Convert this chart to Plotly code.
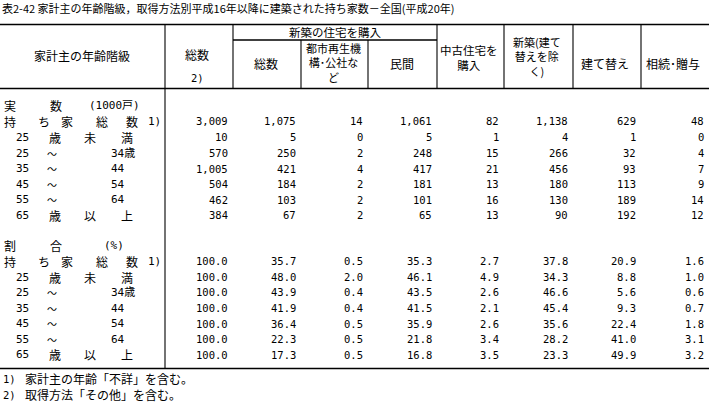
import plotly.graph_objects as go

# ---------------- data ----------------
title_text = "表2-42 家計主の年齢階級，取得方法別平成16年以降に建築された持ち家数－全国(平成20年)"

section_titles = [["実", "数", "(1000戸)"], ["割", "合", "(%)"]]
row_labels = [
    ["持", "ち", "家", "総", "数", "1)"],
    ["25", "歳", "未", "満"],
    ["25", "～", "34歳"],
    ["35", "～", "44"],
    ["45", "～", "54"],
    ["55", "～", "64"],
    ["65", "歳", "以", "上"],
]

counts = [
    [3009, 1075, 14, 1061, 82, 1138, 629, 48],
    [10, 5, 0, 5, 1, 4, 1, 0],
    [570, 250, 2, 248, 15, 266, 32, 4],
    [1005, 421, 4, 417, 21, 456, 93, 7],
    [504, 184, 2, 181, 13, 180, 113, 9],
    [462, 103, 2, 101, 16, 130, 189, 14],
    [384, 67, 2, 65, 13, 90, 192, 12],
]

percents = [
    [100.0, 35.7, 0.5, 35.3, 2.7, 37.8, 20.9, 1.6],
    [100.0, 48.0, 2.0, 46.1, 4.9, 34.3, 8.8, 1.0],
    [100.0, 43.9, 0.4, 43.5, 2.6, 46.6, 5.6, 0.6],
    [100.0, 41.9, 0.4, 41.5, 2.1, 45.4, 9.3, 0.7],
    [100.0, 36.4, 0.5, 35.9, 2.6, 35.6, 22.4, 1.8],
    [100.0, 22.3, 0.5, 21.8, 3.4, 28.2, 41.0, 3.1],
    [100.0, 17.3, 0.5, 16.8, 3.5, 23.3, 49.9, 3.2],
]

footnotes = [["1)", "家計主の年齢「不詳」を含む。"], ["2)", "取得方法「その他」を含む。"]]

# header texts (lines per column)
header_stub = "家計主の年齢階級"
header_total = ["総数", "2)"]
header_group = "新築の住宅を購入"
header_sub = [["総数"], ["都市再生機", "構･公社な", "ど"], ["民間"]]
header_rest = [["中古住宅を", "購入"], ["新築(建て", "替えを除", "く)"], ["建て替え"], ["相続･贈与"]]

# ---------------- layout geometry ----------------
W, H = 709, 402
col_bounds = [0, 165, 233, 301, 368, 437, 504, 573, 641, 709]
num_right = [b - 5 for b in col_bounds[2:]]
JP = "Noto Sans CJK JP"
NUM = "DejaVu Sans Mono, Noto Sans CJK JP"
BLACK = "#000000"

fig = go.Figure()
annotations = []
shapes = []


def ann(x, y, text, xanchor="center", size=12, family=JP):
    annotations.append(dict(x=x, y=y, xref="x", yref="y", text=text, showarrow=False,
                            xanchor=xanchor, yanchor="middle", borderpad=0,
                            font=dict(family=family, size=size, color=BLACK)))


def hline(y, x0, x1, w=1.3):
    shapes.append(dict(type="line", xref="x", yref="y", x0=x0, x1=x1, y0=y, y1=y,
                       line=dict(color=BLACK, width=w)))


def vline(x, y0, y1, w=1.1):
    shapes.append(dict(type="line", xref="x", yref="y", x0=x, x1=x, y0=y0, y1=y1,
                       line=dict(color=BLACK, width=w)))


# title
ann(1, 8, title_text, xanchor="left", size=11)

# rules
top, sub, hdr, bot = 24.5, 40, 88.5, 368.5
hline(top, 0, W)
hline(sub, col_bounds[2], col_bounds[5])
hline(hdr, 0, W)
hline(bot, 0, W)
vline(col_bounds[1], top, bot)
vline(col_bounds[2], top, hdr)
vline(col_bounds[3], sub, hdr)
vline(col_bounds[4], sub, hdr)
for b in col_bounds[5:9]:
    vline(b, top, hdr)

# header
centers = [(col_bounds[i] + col_bounds[i + 1]) / 2 for i in range(len(col_bounds) - 1)]
ann(82, 55, header_stub)
ann(centers[1] - 2, 54, header_total[0])
ann(centers[1] - 2, 78, header_total[1], family=NUM, size=10.5)
ann((col_bounds[2] + col_bounds[5]) / 2, 32, header_group, size=11.5)


def multiline(cx, lines):
    n = len(lines)
    if n == 1:
        ann(cx, 63, lines[0], size=12)
    elif n == 2:
        ann(cx, 57, "<br>".join(lines), size=11.5)
    else:
        cy = 62 if lines[0].startswith("都") else 56.5
        ann(cx, cy, "<br>".join(lines), size=11)


for i, lines in enumerate(header_sub):
    multiline(centers[2 + i] - 1, lines)
for i, lines in enumerate(header_rest):
    multiline(centers[5 + i] - 2, lines)

# stub labels
slots = {6: [3, 37, 60, 95, 125, 147], 4: [15, 48, 83, 120], 3: [15, 48, 110]}


def stub(tokens, y, section=False):
    if section:
        ann(3, y, tokens[0], xanchor="left")
        ann(49, y, tokens[1], xanchor="left")
        ann(114, y, tokens[2], family=NUM, size=11)
        return
    xs = slots[len(tokens)]
    for x, t in zip(xs, tokens):
        fam = NUM if t[0].isdigit() else JP
        if t == "～":
            ann(x + 4, y, t, size=10)
        else:
            ann(x, y, t, xanchor="left", family=fam, size=11 if fam == NUM else 12)


count_rows_y = [121, 137, 153, 168.5, 184, 199.5, 215]
pct_rows_y = [261, 277, 292, 308, 323.5, 339, 354.5]

stub(section_titles[0], 105, section=True)
stub(section_titles[1], 245, section=True)
for toks, y in zip(row_labels, count_rows_y):
    stub(toks, y)
for toks, y in zip(row_labels, pct_rows_y):
    stub(toks, y)

# numbers via the axis scale
for vals, y in zip(counts, count_rows_y):
    for x, v in zip(num_right, vals):
        ann(x + 1, y, f"{v:,}", xanchor="right", family=NUM, size=10.5)
for vals, y in zip(percents, pct_rows_y):
    for x, v in zip(num_right, vals):
        ann(x + 1, y, f"{v:.1f}", xanchor="right", family=NUM, size=10.5)

# footnotes
for (mark, txt), y in zip(footnotes, [378.5, 394.5]):
    ann(2, y, mark, xanchor="left", family=NUM, size=10.5)
    ann(24, y, txt, xanchor="left")

fig.update_layout(
    width=W, height=H,
    margin=dict(l=0, r=0, t=0, b=0),
    paper_bgcolor="white", plot_bgcolor="white",
    xaxis=dict(range=[0, W], visible=False, fixedrange=True),
    yaxis=dict(range=[H, 0], visible=False, fixedrange=True),
    annotations=annotations, shapes=shapes, showlegend=False,
)
fig.write_html(
    "out.html",
    config={"displayModeBar": False},
    post_script="document.body.style.margin='0';document.body.style.padding='0';",
)
